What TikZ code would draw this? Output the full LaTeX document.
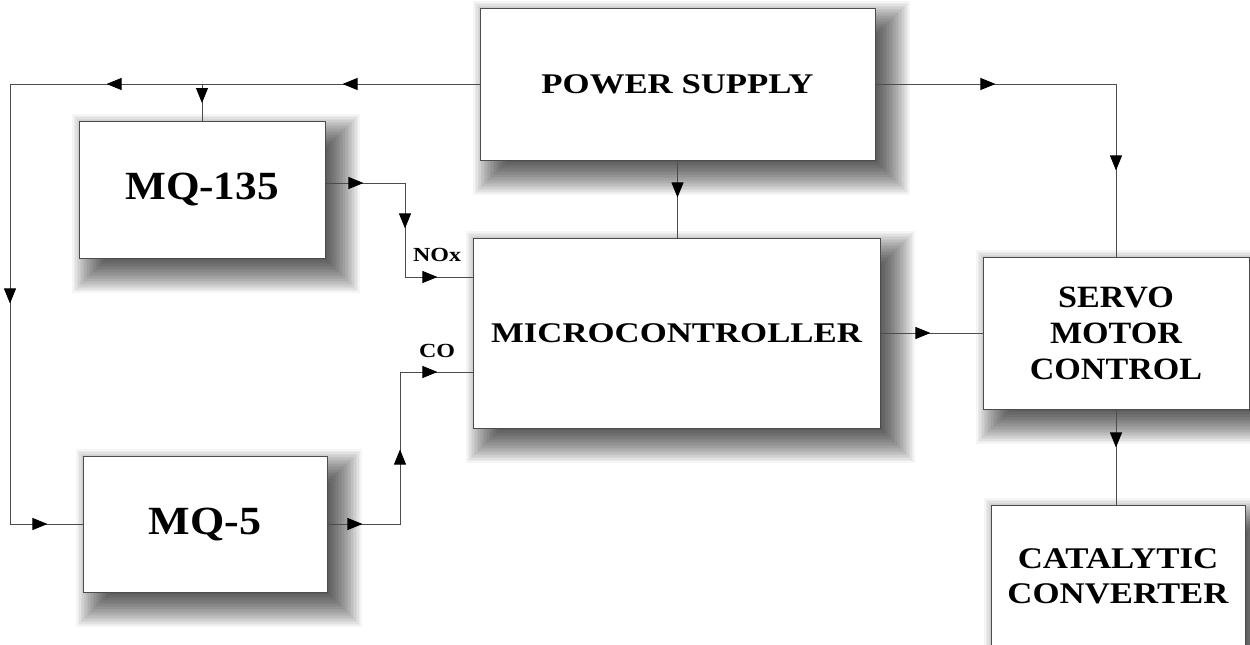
\documentclass[tikz,border=0pt]{standalone}
\usepackage{fontspec}
\setmainfont{Liberation Serif}
\usepackage{graphicx}
\usetikzlibrary{arrows.meta,decorations.markings,backgrounds}
\newcommand{\sx}[2]{\scalebox{#1}[1]{#2}}
\newcommand{\shad}[1]{%
  \foreach \i in {0,...,23}{%
    \pgfmathsetmacro{\e}{-14+\i*1.5}%
    \fill[black, opacity=0.04]
      ([shift={(14-\e,14-\e)}]#1.north west) rectangle ([shift={(14+\e,14+\e)}]#1.south east);
  }}
\begin{document}
\begin{tikzpicture}[x=1pt,y=-1pt,
  box/.style={draw=black!70, line width=0.9pt, fill=white, inner sep=0pt, align=center},
  wire/.style={draw=black!70, line width=0.9pt},
  ma/.style={postaction={decorate, decoration={markings,
      mark=at position #1 with {\arrow{Triangle[length=15pt,width=12pt,color=black]}}}}},
  lab/.style={fill=white, inner sep=1pt, font=\bfseries\fontsize{20}{24}\selectfont}]
\useasboundingbox (0,0) rectangle (1250,645);

\node[box, font=\bfseries\fontsize{28.5}{34}\selectfont, minimum width=395pt, minimum height=152pt] (ps) at (677.5,84)
  {\sx{1.22}{POWER SUPPLY}};
\node[box, font=\bfseries\fontsize{40}{48}\selectfont, minimum width=246pt, minimum height=137pt] (mq135) at (202,189.5)
  {\sx{1.08}{MQ-135}};
\node[box, font=\bfseries\fontsize{28.5}{34}\selectfont, minimum width=407pt, minimum height=190pt] (mc) at (676.5,333)
  {\sx{1.22}{MICROCONTROLLER}};
\node[box, font=\bfseries\fontsize{40}{48}\selectfont, minimum width=244pt, minimum height=136pt] (mq5) at (205,524)
  {\sx{1.1}{MQ-5}};
\node[box, font=\bfseries\fontsize{31}{36}\selectfont, minimum width=266pt, minimum height=152pt] (servo) at (1116,333)
  {\sx{1.1}{SERVO}\\\sx{1.1}{MOTOR}\\\sx{1.1}{CONTROL}};
\node[box, font=\bfseries\fontsize{30}{35}\selectfont, minimum width=254pt, minimum height=142pt] (cat) at (1118,576)
  {\sx{1.16}{CATALYTIC}\\\sx{1.16}{CONVERTER}};

\begin{scope}[on background layer]
  \fill[white] (0,0) rectangle (1250,645);
  \shad{ps} \shad{mq135} \shad{mc} \shad{mq5} \shad{servo} \shad{cat}
\end{scope}

\coordinate (tl) at (10,84);
\coordinate (bl) at (10,524);
\coordinate (j1) at (202,84);
\coordinate (k1) at (405,183);
\coordinate (k2) at (405,277);
\coordinate (k3) at (400,524);
\coordinate (k4) at (400,372);
\coordinate (k5) at (1116,84);

\draw[wire, ma=137pt, ma=373pt, ma=689pt, ma=947pt]
  (ps.west) -- (tl) -- (bl) -- (mq5.west);
\draw[wire, ma=19pt] (j1) -- (mq135.north);
\draw[wire, ma=38pt, ma=125pt, ma=206pt]
  (mq135.east |- k1) -- (k1) -- (k2) -- (mc.west |- k2);
\draw[wire, ma=35pt, ma=147pt, ma=262pt]
  (mq5.east) -- (k3) -- (k4) -- (mc.west |- k4);
\draw[wire, ma=37pt] (ps.south) -- (ps.south |- mc.north);
\draw[wire, ma=120pt, ma=327pt] (ps.east) -- (k5) -- (servo.north);
\draw[wire, ma=50pt] (mc.east) -- (servo.west);
\draw[wire, ma=38pt] (servo.south) -- (servo.south |- cat.north);

\node[lab] (nox) at (437,255) {\sx{1.2}{NOx}};
\node[lab] (co) at (437,351) {\sx{1.2}{CO}};
\end{tikzpicture}
\end{document}
